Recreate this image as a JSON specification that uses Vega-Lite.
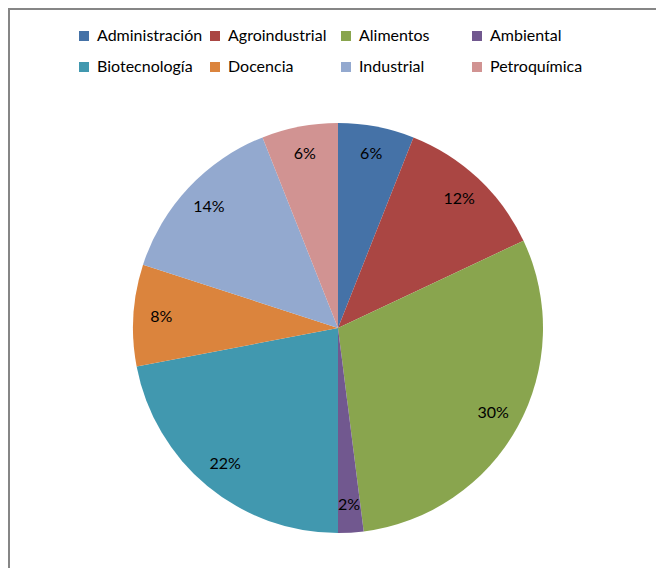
{
  "$schema": "https://vega.github.io/schema/vega-lite/v6.json",
  "autosize": {"type": "none"},
  "padding": {"left": 9, "top": 9, "right": -11, "bottom": -79},
  "width": 658,
  "height": 638,
  "background": "white",
  "view": {"stroke": "#868686", "strokeWidth": 2, "fill": "white"},
  "config": {
    "view": {"stroke": "#868686", "strokeWidth": 2},
    "font": "Lato"
  },
  "data": {
    "values": [
      {"area": "Administración", "pct": 6, "label": "6%", "idx": 1},
      {"area": "Agroindustrial", "pct": 12, "label": "12%", "idx": 2},
      {"area": "Alimentos", "pct": 30, "label": "30%", "idx": 3},
      {"area": "Ambiental", "pct": 2, "label": "2%", "idx": 4},
      {"area": "Biotecnología", "pct": 22, "label": "22%", "idx": 5},
      {"area": "Docencia", "pct": 8, "label": "8%", "idx": 6},
      {"area": "Industrial", "pct": 14, "label": "14%", "idx": 7},
      {"area": "Petroquímica", "pct": 6, "label": "6%", "idx": 8}
    ]
  },
  "encoding": {
    "theta": {"field": "pct", "type": "quantitative", "stack": true},
    "order": {"field": "idx", "type": "quantitative"},
    "color": {
      "field": "area",
      "type": "nominal",
      "sort": ["Administración", "Agroindustrial", "Alimentos", "Ambiental", "Biotecnología", "Docencia", "Industrial", "Petroquímica"],
      "scale": {
        "domain": ["Administración", "Agroindustrial", "Alimentos", "Ambiental", "Biotecnología", "Docencia", "Industrial", "Petroquímica"],
        "range": ["#4572A7", "#AA4643", "#89A54E", "#71588F", "#4198AF", "#DB843D", "#93A9CF", "#D19392"]
      },
      "legend": {
        "title": null,
        "orient": "none",
        "legendX": 67,
        "legendY": 19,
        "direction": "horizontal",
        "columns": 4,
        "gridAlign": "all",
        "columnPadding": 4,
        "rowPadding": 15,
        "symbolType": "square",
        "symbolSize": 100,
        "symbolStrokeWidth": 0,
        "labelOffset": 5,
        "labelFontSize": 16,
        "labelColor": "#000000",
        "labelFont": "Lato",
        "labelLimit": 200
      }
    }
  },
  "layer": [
    {"mark": {"type": "arc", "outerRadius": 205}},
    {
      "mark": {"type": "text", "radius": 177, "fontSize": 16, "color": "#000000", "font": "Lato"},
      "encoding": {"text": {"field": "label", "type": "nominal"}, "color": {"value": "#000000"}}
    }
  ]
}
